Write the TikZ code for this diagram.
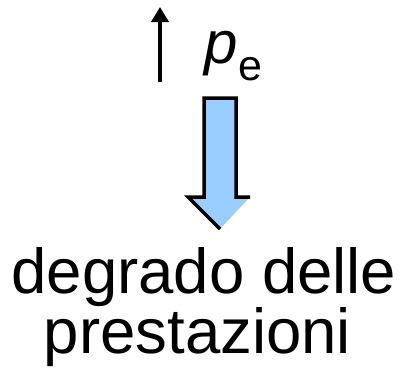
\documentclass[tikz,border=0pt]{standalone}
\usepackage{fontspec}
\setmainfont{Liberation Sans}
\usetikzlibrary{arrows.meta}
\definecolor{lightblue}{RGB}{153,204,255}
\tikzset{
  lbl/.style={inner sep=0pt, anchor=base, font=\fontsize{63.5}{60}\selectfont},
  thinarrow/.style={line width=4.5pt, -{Triangle[length=15pt,width=17pt]}},
  blockline/.style={line width=3.5pt, line join=miter, line cap=butt}
}
\begin{document}
\begin{tikzpicture}[x=1pt,y=-1pt]
\useasboundingbox (0,0) rectangle (406,381);
% small up arrow
\coordinate (ua) at (160,82);
\coordinate (ub) at (160,7);
\draw[thinarrow] (ua) -- (ub);
% p_e label
\node[inner sep=0pt, anchor=base, font=\fontsize{60}{60}\selectfont\itshape] (p) at (221,63) {p};
\node[inner sep=0pt, anchor=base, font=\fontsize{43}{43}\selectfont] (e) at (250,80) {e};
% block arrow
\fill[lightblue] (220,229) -- (188,197) -- (204,197) -- (204,98) -- (236,98) -- (236,197) -- (250,197) -- cycle;
\draw[blockline] (220,229) -- (188,197) -- (204,197) -- (204,98) -- (236,98) -- (236,197) -- (250,197);
% text
\node[lbl] (t1) at (204,293) {degrado delle};
\node[lbl] (t2) at (197.5,353) {prestazioni};
\end{tikzpicture}
\end{document}
